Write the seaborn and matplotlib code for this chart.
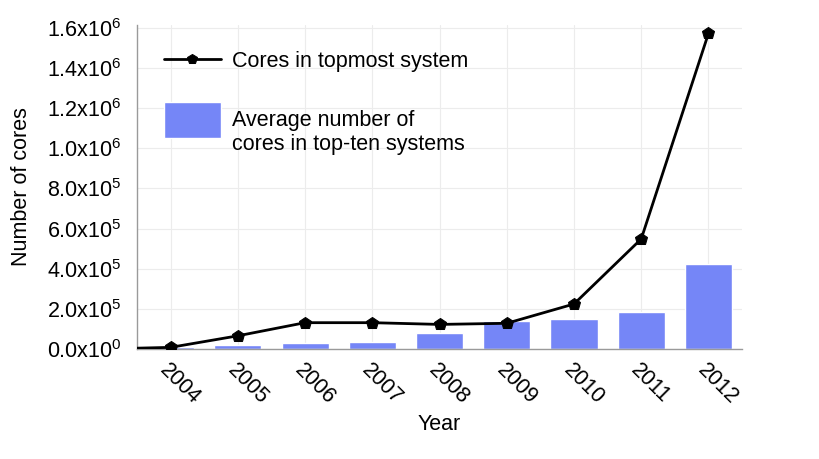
import matplotlib
matplotlib.use("Agg")
import matplotlib.pyplot as plt
from matplotlib.transforms import ScaledTranslation
import seaborn as sns
import pandas as pd

# values
bar_years = [2004, 2005, 2006, 2007, 2008, 2009, 2010, 2011, 2012]
avg_top_ten = [8000, 20000, 28000, 36000, 78000, 138000, 148000, 186000, 424000]

line_years = [2003, 2004, 2005, 2006, 2007, 2008, 2009, 2010, 2011, 2012]
top_system = [0, 8000, 65536, 131072, 131072, 122400, 128000, 224162, 548352, 1572864]

ytick_vals = [0, 2e5, 4e5, 6e5, 8e5, 1e6, 1.2e6, 1.4e6, 1.6e6]
ytick_labels = ["0.0x10$^0$", "2.0x10$^5$", "4.0x10$^5$", "6.0x10$^5$", "8.0x10$^5$",
                "1.0x10$^6$", "1.2x10$^6$", "1.4x10$^6$", "1.6x10$^6$"]

sns.set_theme(style="white")
plt.rcParams["font.family"] = ["Liberation Sans", "DejaVu Sans"]
plt.rcParams["mathtext.fontset"] = "custom"
plt.rcParams["mathtext.rm"] = "Liberation Sans"
plt.rcParams["mathtext.it"] = "Liberation Sans"
plt.rcParams["text.color"] = "black"
plt.rcParams["axes.labelcolor"] = "black"
plt.rcParams["xtick.color"] = "black"
plt.rcParams["ytick.color"] = "black"

fs = 15.5
bars = pd.DataFrame({"year": bar_years, "cores": avg_top_ten})
line = pd.DataFrame({"year": line_years, "cores": top_system})

fig = plt.figure(figsize=(8.2, 4.59), dpi=100)
ax = fig.add_axes([0.167, 0.2397, 0.738, 0.706])

sns.barplot(data=bars, x="year", y="cores", native_scale=True, width=0.7,
            color="#7586f7", saturation=1, ax=ax,
            label="Average number of\ncores in top-ten systems", zorder=2)
sns.lineplot(data=line, x="year", y="cores", color="black", lw=2,
             marker="p", markersize=9, markeredgecolor="black", ax=ax,
             label="Cores in topmost system", zorder=3)

ax.set_xlim(2003.5, 2012.5)
ax.set_ylim(0, 1.615e6)
ax.set_xticks(bar_years)
ax.set_xticklabels([str(y) for y in bar_years], rotation=-45, ha="left",
                   va="top", rotation_mode="anchor", fontsize=fs)
ax.set_yticks(ytick_vals)
ax.set_yticklabels(ytick_labels, fontsize=fs)
ax.tick_params(axis="x", length=0, pad=8)
ax.tick_params(axis="y", length=0, pad=11)

ax.grid(True, color="#ececec", lw=0.8, zorder=0)
ax.set_axisbelow(True)
for s in ["top", "right"]:
    ax.spines[s].set_visible(False)
for s in ["left", "bottom"]:
    ax.spines[s].set_color("#9a9a9a")
    ax.spines[s].set_linewidth(1)

ax.set_xlabel("Year", fontsize=fs)
ax.set_ylabel("Number of cores", fontsize=fs)
ax.xaxis.set_label_coords(0.5, -0.2)
ax.yaxis.set_label_coords(-0.174, 0.5)

h, l = ax.get_legend_handles_labels()
order = [l.index("Cores in topmost system"), l.index("Average number of\ncores in top-ten systems")]
leg = ax.legend([h[i] for i in order], [l[i] for i in order], loc="upper left",
                bbox_to_anchor=(0.012, 0.992), frameon=False, fontsize=fs,
                handlelength=2.65, handleheight=2.2, labelspacing=0.6, handletextpad=0.55)
leg.legend_handles[0].set_markersize(7)
t1, t2 = leg.get_texts()
t1.set_transform(t1.get_transform() + ScaledTranslation(0, 0.05, fig.dpi_scale_trans))
t2.set_linespacing(1.2)
t2.set_transform(t2.get_transform() + ScaledTranslation(0, -0.14, fig.dpi_scale_trans))

fig.savefig("out.png", dpi=100)
